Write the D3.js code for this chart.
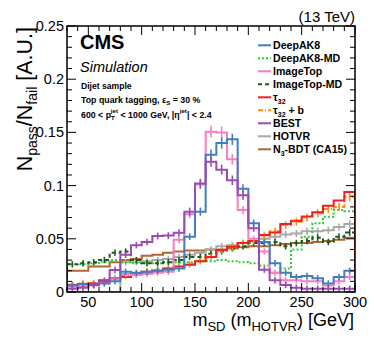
<!DOCTYPE html>
<html><head><meta charset="utf-8">
<script src="https://cdn.jsdelivr.net/npm/d3@7"></script>
<style>
body{margin:0;background:#fff;}
svg{display:block;font-family:"Liberation Sans",Arial,Helvetica,sans-serif;}
</style></head>
<body><svg id="c" width="374" height="343"></svg>
<script>
// ---- data ----
const binEdges = [30,40,50,60,70,80,90,100,110,120,130,140,150,160,170,180,190,200,210,220,230,240,250,260,270,280,290,300];
const deepAK8   = [0.006,0.007,0.007,0.008,0.010,0.019,0.018,0.019,0.020,0.021,0.022,0.052,0.0755,0.129,0.140,0.1435,0.097,0.0645,0.047,0.027,0.018,0.014,0.015,0.013,0.008,0.014,0.020];
const deepAK8MD = [0.026,0.026,0.027,0.0285,0.030,0.028,0.027,0.027,0.027,0.028,0.028,0.028,0.029,0.029,0.030,0.029,0.028,0.027,0.025,0.018,0.022,0.040,0.052,0.0645,0.0707,0.077,0.076];
const imageTop  = [0.005,0.005,0.006,0.009,0.012,0.017,0.016,0.017,0.018,0.019,0.049,0.073,0.101,0.1507,0.150,0.1247,0.077,0.050,0.038,0.018,0.011,0.011,0.010,0.010,0.006,0.010,0.014];
const imageTopMD= [0.026,0.027,0.028,0.030,0.037,0.038,0.030,0.027,0.027,0.028,0.030,0.033,0.033,0.036,0.038,0.041,0.043,0.046,0.046,0.047,0.043,0.046,0.048,0.051,0.047,0.052,0.056];
const tau32     = [0.0066,0.0075,0.008,0.011,0.013,0.014,0.017,0.019,0.020,0.022,0.024,0.0255,0.029,0.033,0.0395,0.0426,0.046,0.048,0.0535,0.056,0.064,0.067,0.071,0.075,0.081,0.086,0.094];
const tau32b    = [0.007,0.008,0.0085,0.011,0.013,0.015,0.017,0.019,0.021,0.022,0.024,0.026,0.029,0.033,0.039,0.042,0.046,0.048,0.053,0.057,0.063,0.066,0.070,0.074,0.078,0.080,0.0896];
const best      = [0.003,0.004,0.0066,0.010,0.0207,0.035,0.044,0.047,0.0526,0.053,0.0557,0.0755,0.102,0.1225,0.115,0.105,0.091,0.060,0.021,0.011,0.0066,0.004,0.003,0.003,0.003,0.003,0.003];
const hotvr     = [0,0,0,0,0,0.028,0.028,0.029,0.030,0.031,0.033,0.035,0.037,0.040,0.043,0.044,0.046,0.048,0.050,0.052,0.054,0.055,0.057,0.057,0.058,0.061,0.064];
const n3bdt     = [0.020,0.020,0.024,0.024,0.028,0.030,0.031,0.034,0.035,0.037,0.038,0.039,0.039,0.040,0.040,0.041,0.042,0.043,0.043,0.044,0.045,0.046,0.046,0.047,0.048,0.049,0.051];

const seriesNames  = ["DeepAK8","DeepAK8-MD","ImageTop","ImageTop-MD","τ32","τ32 + b","BEST","HOTVR","N3-BDT (CA15)"];
const seriesColors = ["#3f7fc0","#2ecc2e","#f77fbf","#1d5a1d","#ee2020","#ff8c1a","#9b4cb0","#a8a8a8","#b5652f"];
const seriesDash   = [null,"2,2",null,"4,3",null,"5,2,1,2",null,null,null];
const seriesErr    = [true,false,true,true,false,true,true,true,false];
const seriesData   = [deepAK8,deepAK8MD,imageTop,imageTopMD,tau32,tau32b,best,hotvr,n3bdt];

const xTicks = [50,100,150,200,250,300];
const yTicks = [0,0.05,0.1,0.15,0.2,0.25];

// ---- layout ----
const svg = d3.select("#c");
const L=67,R=355,T=26,B=292;
const x = d3.scaleLinear().domain([30,300]).range([L,R]);
const y = d3.scaleLinear().domain([0,0.25]).range([B,T]);

const plot = svg.append("g");
plot.append("defs").append("clipPath").attr("id","clip")
  .append("rect").attr("x",L).attr("y",T).attr("width",R-L).attr("height",B-T);
const g = plot.append("g").attr("clip-path","url(#clip)");

const order = [8,7,1,3,5,4,2,0,6];
order.forEach(i=>{
  const vals = seriesData[i];
  const pts = [];
  pts.push([binEdges[0], 0]);
  vals.forEach((v,k)=>{ pts.push([binEdges[k],v]); pts.push([binEdges[k+1],v]); });
  pts.push([binEdges[binEdges.length-1],0]);
  g.append("path")
    .attr("d", d3.line().x(d=>x(d[0])).y(d=>y(d[1]))(pts))
    .attr("fill","none").attr("stroke",seriesColors[i]).attr("stroke-width",2)
    .attr("stroke-dasharray",seriesDash[i]);
  if(seriesErr[i]){
    vals.forEach((v,k)=>{
      if(v<=0) return;
      const c=(binEdges[k]+binEdges[k+1])/2;
      const e=Math.max(0.003, Math.sqrt(v)*0.014);
      g.append("line").attr("x1",x(c)).attr("x2",x(c))
        .attr("y1",y(v-e)).attr("y2",y(v+e))
        .attr("stroke",seriesColors[i]).attr("stroke-width",1.6);
    });
  }
});

// frame
svg.append("rect").attr("x",L).attr("y",T).attr("width",R-L).attr("height",B-T)
  .attr("fill","none").attr("stroke","#000").attr("stroke-width",1.5);

// ticks
const tk = svg.append("g").attr("stroke","#000").attr("stroke-width",1);
d3.range(30,301,10).forEach(v=>{
  const major = v%50===0;
  const len = major?9:5;
  tk.append("line").attr("x1",x(v)).attr("x2",x(v)).attr("y1",B).attr("y2",B-len);
  tk.append("line").attr("x1",x(v)).attr("x2",x(v)).attr("y1",T).attr("y2",T+len);
});
d3.range(0,0.2501,0.01).forEach(v=>{
  const major = Math.abs(Math.round(v*100)%5)===0;
  const len = major?9:5;
  tk.append("line").attr("x1",L).attr("x2",L+len).attr("y1",y(v)).attr("y2",y(v));
  tk.append("line").attr("x1",R).attr("x2",R-len).attr("y1",y(v)).attr("y2",y(v));
});

// tick labels
svg.append("g").selectAll("text").data(xTicks).join("text")
  .attr("x",d=>x(d)).attr("y",B+15).attr("text-anchor","middle")
  .attr("font-size",14.5).text(d=>d);
svg.append("g").selectAll("text").data(yTicks).join("text")
  .attr("x",L-3).attr("y",d=>y(d)+5).attr("text-anchor","end")
  .attr("font-size",14.5).text(d=>d===0?"0":String(+d.toFixed(2)));

// axis titles
const xt = svg.append("text").attr("x",R-1).attr("y",326).attr("text-anchor","end").attr("font-size",18);
xt.append("tspan").text("m");
xt.append("tspan").attr("font-size",13).attr("dy",5).text("SD");
xt.append("tspan").attr("dy",-5).text(" (m");
xt.append("tspan").attr("font-size",13).attr("dy",5).text("HOTVR");
xt.append("tspan").attr("dy",-5).text(") [GeV]");

const yt = svg.append("text").attr("transform","translate(32,27) rotate(-90)")
  .attr("text-anchor","end").attr("font-size",21.5);
yt.append("tspan").text("N");
yt.append("tspan").attr("font-size",14).attr("dy",5).text("pass");
yt.append("tspan").attr("dy",-5).text("/N");
yt.append("tspan").attr("font-size",14).attr("dy",5).text("fail");
yt.append("tspan").attr("dy",-5).text(" [A.U.]");

// header text
svg.append("text").attr("x",R).attr("y",22).attr("text-anchor","end").attr("font-size",15).text("(13 TeV)");
svg.append("text").attr("x",80).attr("y",49).attr("font-size",20).attr("font-weight","bold").text("CMS");
svg.append("text").attr("x",80).attr("y",72).attr("font-size",14.5).attr("font-style","italic").text("Simulation");
svg.append("text").attr("x",81).attr("y",88.5).attr("font-size",8.6).attr("font-weight","bold").text("Dijet sample");
const t2 = svg.append("text").attr("x",81).attr("y",103).attr("font-size",8.8).attr("font-weight","bold");
t2.append("tspan").text("Top quark tagging,  ε");
t2.append("tspan").attr("font-size",6.2).attr("dy",2).text("S");
t2.append("tspan").attr("dy",-2).text(" = 30 %");
const t3 = svg.append("text").attr("x",81).attr("y",118).attr("font-size",8.8).attr("font-weight","bold");
t3.append("tspan").text("600 < p");
t3.append("tspan").attr("font-size",6.2).attr("dy",2).text("T");
t3.append("tspan").attr("font-size",6.2).attr("dx",-4).attr("dy",-7).text("jet");
t3.append("tspan").attr("dy",5).text(" < 1000 GeV, |η");
t3.append("tspan").attr("font-size",6.2).attr("dy",-5).text("jet");
t3.append("tspan").attr("dy",5).text("| < 2.4");

// legend
const lg = svg.append("g");
seriesNames.forEach((n,i)=>{
  const by = 49.3 + i*13;
  lg.append("line").attr("x1",258).attr("x2",271).attr("y1",by-4).attr("y2",by-4)
    .attr("stroke",seriesColors[i]).attr("stroke-width",2).attr("stroke-dasharray",seriesDash[i]);
  const t = lg.append("text").attr("x",273).attr("y",by).attr("font-size",10.6).attr("font-weight","bold");
  if(n.startsWith("τ32")){
    t.append("tspan").text("τ");
    t.append("tspan").attr("font-size",7).attr("dy",2.5).text("32");
    t.append("tspan").attr("dy",-2.5).text(n.slice(3));
  } else if(n.startsWith("N3")){
    t.append("tspan").text("N");
    t.append("tspan").attr("font-size",7).attr("dy",2.5).text("3");
    t.append("tspan").attr("dy",-2.5).text(n.slice(2));
  } else t.text(n);
});
</script></body></html>
